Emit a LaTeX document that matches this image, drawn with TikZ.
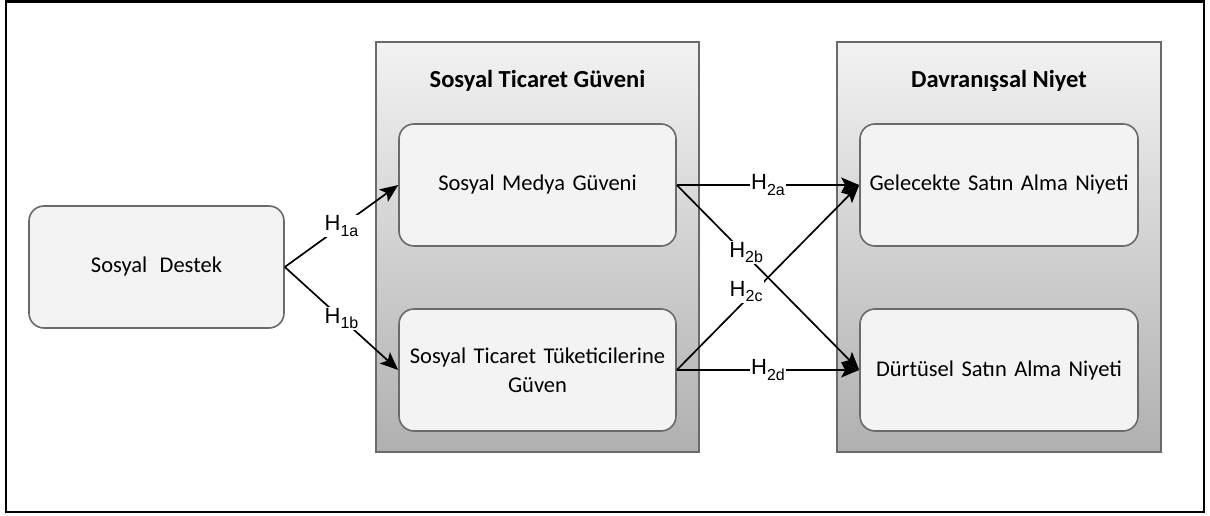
\documentclass[tikz,border=0pt]{standalone}
\usepackage{fontspec}
\setmainfont{Carlito}
\newfontfamily\arialf{Liberation Sans}
\usetikzlibrary{arrows.meta}
\definecolor{boxfill}{HTML}{F3F3F3}
\definecolor{boxdraw}{HTML}{6A6A6A}
\definecolor{gtop}{HTML}{F2F2F2}
\definecolor{gbot}{HTML}{B0B0B0}
\newcommand{\hyp}[1]{{\arialf\fontsize{22}{22}\selectfont H\raisebox{-0.45ex}{\fontsize{16}{16}\selectfont #1}}}
\tikzset{
  inner/.style={draw=boxdraw, line width=1.6pt, fill=boxfill, rounded corners=15pt, align=center,
    font=\fontsize{22.5}{29}\selectfont, text width=270pt},
  group/.style={draw=boxdraw, line width=1.8pt, top color=gtop, bottom color=gbot},
  conn/.style={line width=1.7pt, -{Stealth[length=18pt,width=15pt,inset=4pt]}},
  lbl/.style={fill=white, inner sep=1pt},
  ttl/.style={font=\bfseries\fontsize{24.5}{28}\selectfont}
}
\begin{document}
\begin{tikzpicture}[x=1pt,y=-1pt]
\useasboundingbox (0,0) rectangle (1210,516);
\draw[line width=2.5pt] (6,1.5) rectangle (1204,512);
% containers
\node[group, minimum width=323pt, minimum height=410pt, inner sep=0pt] (C1) at (537.5,247) {};
\node[group, minimum width=324pt, minimum height=410pt, inner sep=0pt] (C2) at (999,247) {};
\node[ttl] (T1) at (537.5,81) {Sosyal Ticaret Güveni};
\node[ttl] (T2) at (999,81) {Davranışsal Niyet};
% boxes
\node[inner, minimum width=255pt, minimum height=122pt, text width=230pt] (SD) at (156.5,267) {Sosyal\hspace{0.55em}Destek};
\node[inner, minimum width=277pt, minimum height=122pt, text width=265pt] (SMG) at (537.5,185) {Sosyal Medya Güveni};
\node[inner, minimum width=277pt, minimum height=122pt, text width=265pt] (STT) at (537.5,370) {Sosyal Ticaret Tüketicilerine\\Güven};
\node[inner, minimum width=278pt, minimum height=122pt] (GSN) at (999,185) {Gelecekte Satın Alma Niyeti};
\node[inner, minimum width=278pt, minimum height=122pt] (DSN) at (999,370) {Dürtüsel Satın Alma Niyeti};
% connectors
\draw[conn] (SD.east) -- node[lbl, pos=0.5] {\hyp{1a}} (SMG.west);
\draw[conn] (SD.east) -- node[lbl, pos=0.5] {\hyp{1b}} (STT.west);
\draw[conn] (SMG.east) -- node[lbl, pos=0.5] {\hyp{2a}} (GSN.west);
\draw[conn] (STT.east) -- node[lbl, pos=0.5] {\hyp{2d}} (DSN.west);
\draw[conn] (SMG.east) -- node[lbl, pos=0.38, yshift=3pt] {\hyp{2b}} (DSN.west);
\draw[conn] (STT.east) -- node[lbl, pos=0.38, yshift=8pt] {\hyp{2c}} (GSN.west);
\end{tikzpicture}
\end{document}
